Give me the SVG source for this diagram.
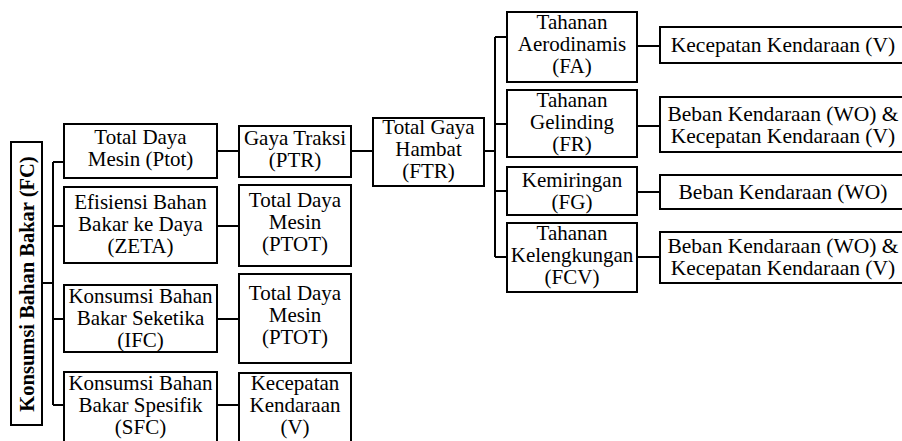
<svg xmlns="http://www.w3.org/2000/svg" width="902" height="441" viewBox="0 0 902 441">
<style>
.box{fill:#fff;stroke:#000;stroke-width:2}
.t{font-family:'Liberation Serif','Times New Roman',serif;font-size:21px;fill:#000;stroke:none;text-anchor:middle}
.b{font-weight:bold;font-size:20.5px}
.w{font-size:21.5px}
.c{fill:none;stroke:#000;stroke-width:2}
</style>
<rect width="902" height="441" fill="#fff"/>
<g id="connectors">
<path class="c" d="M42 283H53M53 162V405M53 162H64M53 226H64M53 319H64M53 405H64"/>
<path class="c" d="M217 151H239M217 226H239M217 319H239M217 405H239"/>
<path class="c" d="M351 151H373M484 151H495M495 37V257M495 37H507M495 124H507M495 191H507M495 257H507"/>
<path class="c" d="M637 46H660M637 126H660M637 192H660M637 257H660"/>
</g>
<g id="FC">
<rect class="box" x="11" y="142" width="31" height="283"/>
<text class="t b" transform="translate(34,284) rotate(-90)">Konsumsi Bahan Bakar (FC)</text>
</g>
<g id="Ptot">
<rect class="box" x="64" y="124" width="153" height="54"/>
<text class="t" x="140.5" y="144">Total Daya</text>
<text class="t" x="140.5" y="166">Mesin (Ptot)</text>
</g>
<g id="ZETA">
<rect class="box" x="64" y="187" width="153" height="76"/>
<text class="t" x="140.5" y="209">Efisiensi Bahan</text>
<text class="t" x="140.5" y="231">Bakar ke Daya</text>
<text class="t" x="140.5" y="253">(ZETA)</text>
</g>
<g id="IFC">
<rect class="box" x="64" y="285" width="153" height="67"/>
<text class="t" x="140.5" y="303">Konsumsi Bahan</text>
<text class="t" x="140.5" y="325">Bakar Seketika</text>
<text class="t" x="140.5" y="347">(IFC)</text>
</g>
<g id="SFC">
<rect class="box" x="64" y="372" width="153" height="80"/>
<text class="t" x="140.5" y="390">Konsumsi Bahan</text>
<text class="t" x="140.5" y="412">Bakar Spesifik</text>
<text class="t" x="140.5" y="434">(SFC)</text>
</g>
<g id="PTR">
<rect class="box" x="239" y="126" width="112" height="51"/>
<text class="t" x="295" y="145">Gaya Traksi</text>
<text class="t" x="295" y="167">(PTR)</text>
</g>
<g id="PTOT1">
<rect class="box" x="239" y="185" width="112" height="81"/>
<text class="t" x="295" y="207">Total Daya</text>
<text class="t" x="295" y="229">Mesin</text>
<text class="t" x="295" y="251">(PTOT)</text>
</g>
<g id="PTOT2">
<rect class="box" x="239" y="274" width="112" height="89"/>
<text class="t" x="295" y="300">Total Daya</text>
<text class="t" x="295" y="322">Mesin</text>
<text class="t" x="295" y="344">(PTOT)</text>
</g>
<g id="V">
<rect class="box" x="239" y="373" width="112" height="80"/>
<text class="t" x="295" y="390">Kecepatan</text>
<text class="t" x="295" y="412">Kendaraan</text>
<text class="t" x="295" y="434">(V)</text>
</g>
<g id="FTR">
<rect class="box" x="373" y="118" width="111" height="68"/>
<text class="t" x="428.5" y="134">Total Gaya</text>
<text class="t" x="428.5" y="156">Hambat</text>
<text class="t" x="428.5" y="178">(FTR)</text>
</g>
<g id="FA">
<rect class="box" x="507" y="12" width="130" height="70"/>
<text class="t" x="572" y="29">Tahanan</text>
<text class="t" x="572" y="51">Aerodinamis</text>
<text class="t" x="572" y="73">(FA)</text>
</g>
<g id="FR">
<rect class="box" x="507" y="90" width="130" height="67"/>
<text class="t" x="572" y="107">Tahanan</text>
<text class="t" x="572" y="129">Gelinding</text>
<text class="t" x="572" y="151">(FR)</text>
</g>
<g id="FG">
<rect class="box" x="507" y="167" width="130" height="48"/>
<text class="t" x="572" y="187">Kemiringan</text>
<text class="t" x="572" y="209">(FG)</text>
</g>
<g id="FCV">
<rect class="box" x="507" y="223" width="130" height="69"/>
<text class="t" x="572" y="240">Tahanan</text>
<text class="t" x="572" y="262">Kelengkungan</text>
<text class="t" x="572" y="284">(FCV)</text>
</g>
<g id="R1">
<rect class="box" x="660" y="27" width="250" height="36"/>
<text class="t w" x="783" y="52">Kecepatan Kendaraan (V)</text>
</g>
<g id="R2">
<rect class="box" x="660" y="97" width="250" height="55"/>
<text class="t w" x="783" y="121">Beban Kendaraan (WO) &amp;</text>
<text class="t w" x="783" y="143">Kecepatan Kendaraan (V)</text>
</g>
<g id="R3">
<rect class="box" x="660" y="175" width="250" height="34"/>
<text class="t w" x="783" y="199">Beban Kendaraan (WO)</text>
</g>
<g id="R4">
<rect class="box" x="660" y="232" width="250" height="51"/>
<text class="t w" x="783" y="253">Beban Kendaraan (WO) &amp;</text>
<text class="t w" x="783" y="275">Kecepatan Kendaraan (V)</text>
</g>
</svg>
